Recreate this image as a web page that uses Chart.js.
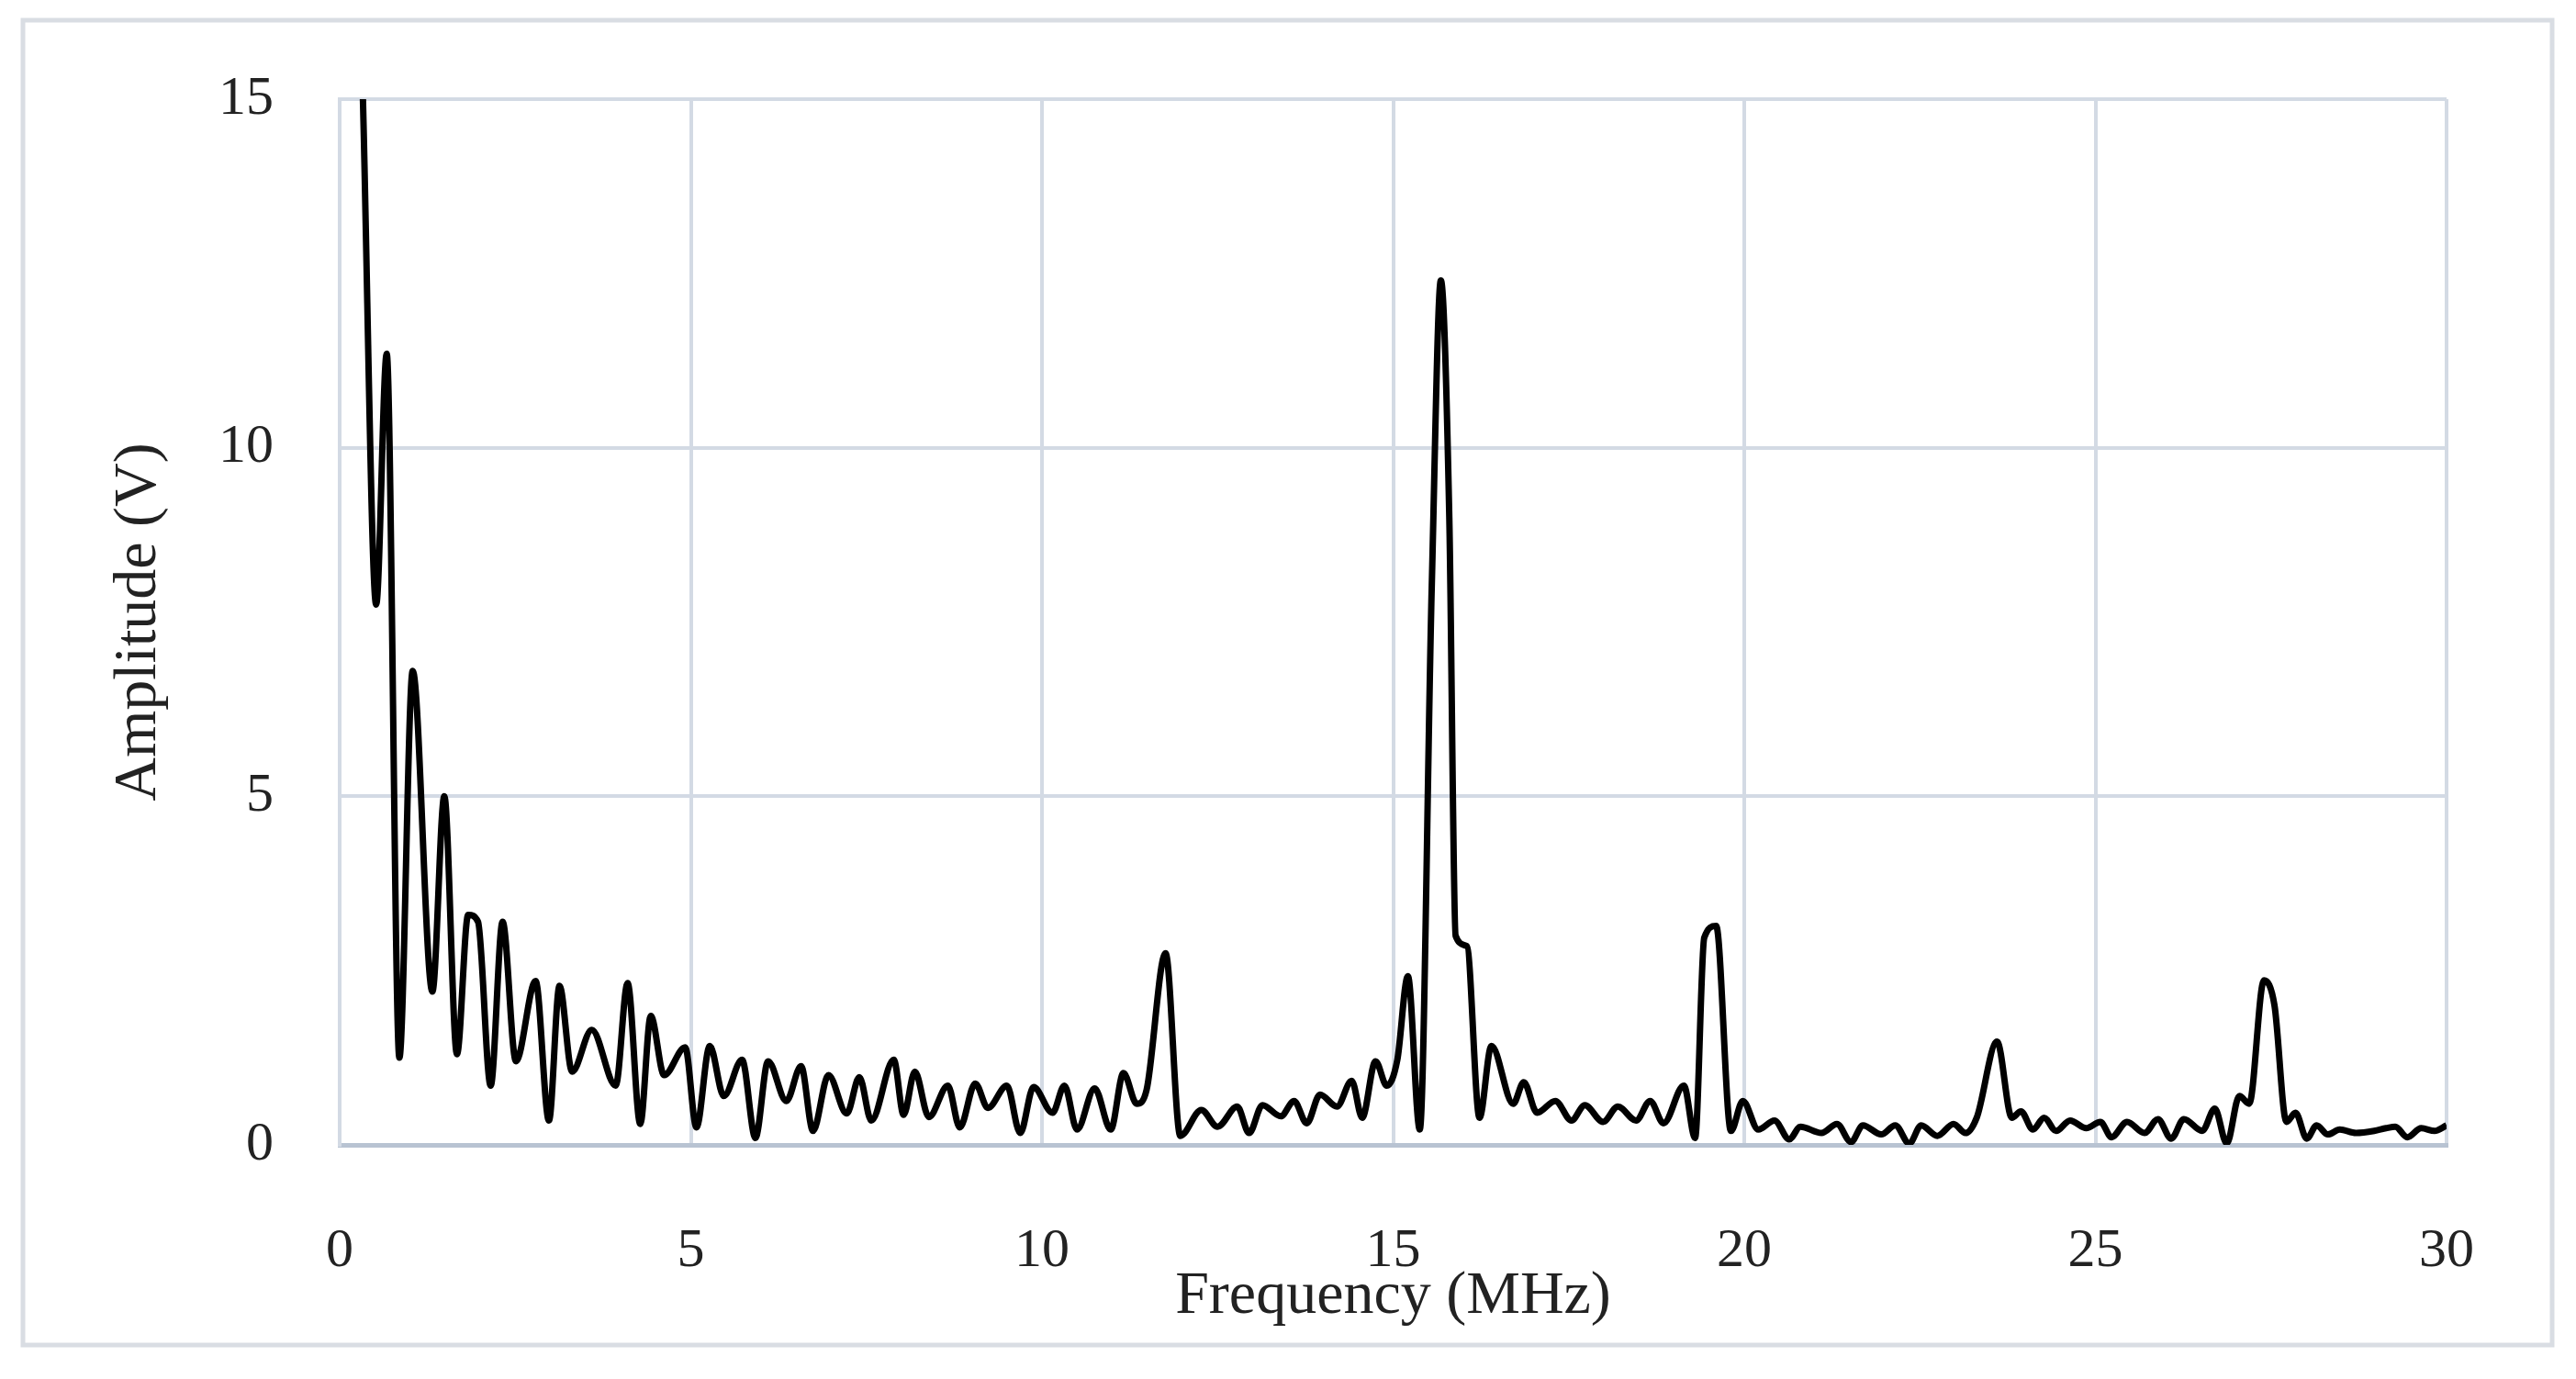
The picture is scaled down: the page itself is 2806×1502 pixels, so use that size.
<!DOCTYPE html>
<html>
<head>
<meta charset="utf-8">
<script src="https://cdn.jsdelivr.net/npm/chart.js@4/dist/chart.umd.min.js"></script>
<style>
  html, body { margin: 0; padding: 0; background: #fff; }
  #wrap { width: 2806px; height: 1502px; }
</style>
</head>
<body>
<div id="wrap"><canvas id="spectrum"></canvas></div>
<script>
const freq = [0.33, 0.52, 0.67, 0.85, 1.04, 1.32, 1.49, 1.67, 1.83, 1.97, 2.15, 2.32, 2.51, 2.79, 2.98, 3.13, 3.31, 3.59, 3.93, 4.10,
  4.28, 4.43, 4.62, 4.92, 5.08, 5.27, 5.47, 5.73, 5.92, 6.10, 6.36, 6.57, 6.74, 6.96, 7.22, 7.40, 7.57, 7.89, 8.03, 8.19,
  8.39, 8.66, 8.83, 9.05, 9.23, 9.50, 9.69, 9.88, 10.15, 10.32, 10.50, 10.75, 10.98, 11.16, 11.35, 11.49, 11.76, 11.97, 12.27, 12.50,
  12.78, 12.95, 13.14, 13.40, 13.59, 13.77, 13.96, 14.20, 14.41, 14.56, 14.75, 14.91, 15.06, 15.21, 15.38, 15.55, 15.68, 15.80, 15.89, 16.05,
  16.23, 16.40, 16.71, 16.86, 17.05, 17.31, 17.54, 17.73, 17.99, 18.20, 18.46, 18.66, 18.85, 19.14, 19.30, 19.43, 19.60, 19.81, 19.98, 20.20,
  20.43, 20.64, 20.80, 21.10, 21.32, 21.52, 21.69, 21.95, 22.15, 22.35, 22.52, 22.75, 22.98, 23.15, 23.31, 23.60, 23.81, 23.94, 24.11, 24.27,
  24.44, 24.64, 24.87, 25.07, 25.23, 25.45, 25.70, 25.89, 26.08, 26.26, 26.52, 26.70, 26.87, 27.05, 27.19, 27.40, 27.55, 27.72, 27.85, 28.01,
  28.15, 28.31, 28.48, 28.71, 28.97, 29.14, 29.27, 29.44, 29.64, 29.83, 30.00];
const amplitude = [15.05, 7.75, 11.35, 1.25, 6.8, 2.2, 5.0, 1.3, 3.3, 3.2, 0.85, 3.2, 1.2, 2.35, 0.35, 2.28, 1.05, 1.65, 0.85, 2.32,
  0.3, 1.85, 1.0, 1.4, 0.25, 1.42, 0.7, 1.22, 0.1, 1.2, 0.63, 1.13, 0.2, 1.0, 0.45, 0.97, 0.35, 1.22, 0.43, 1.05,
  0.4, 0.85, 0.25, 0.88, 0.53, 0.85, 0.17, 0.83, 0.46, 0.85, 0.22, 0.81, 0.22, 1.03, 0.59, 0.79, 2.75, 0.13, 0.5, 0.26,
  0.55, 0.17, 0.57, 0.41, 0.63, 0.31, 0.72, 0.55, 0.92, 0.39, 1.2, 0.85, 1.22, 2.42, 0.22, 8.0, 12.4, 9.0, 3.0, 2.85,
  0.39, 1.42, 0.59, 0.9, 0.46, 0.63, 0.35, 0.57, 0.33, 0.55, 0.35, 0.63, 0.31, 0.85, 0.1, 2.97, 3.14, 0.2, 0.63, 0.22,
  0.35, 0.08, 0.26, 0.17, 0.3, 0.04, 0.28, 0.15, 0.28, 0.02, 0.28, 0.13, 0.3, 0.17, 0.39, 1.48, 0.39, 0.48, 0.22, 0.39,
  0.2, 0.35, 0.24, 0.33, 0.11, 0.33, 0.17, 0.37, 0.09, 0.37, 0.2, 0.52, 0.02, 0.7, 0.59, 2.36, 2.0, 0.33, 0.46, 0.09,
  0.28, 0.15, 0.22, 0.17, 0.2, 0.24, 0.26, 0.11, 0.24, 0.2, 0.28];
const xTicks = [0, 5, 10, 15, 20, 25, 30];
const yTicks = [0, 5, 10, 15];

const serif = "'Liberation Serif', 'DejaVu Serif', serif";
const gridColor = "#d3dae4";

const frame = {
  id: 'frame',
  beforeDraw(chart) {
    const c = chart.ctx;
    c.save();
    c.fillStyle = "#fff";
    c.fillRect(0, 0, chart.width, chart.height);
    c.strokeStyle = "#d9dde3";
    c.lineWidth = 5;
    c.strokeRect(25, 22, 2755, 1443);
    c.restore();
  }
};

new Chart(document.getElementById('spectrum'), {
  type: 'line',
  data: {
    datasets: [{
      data: freq.map((f, i) => ({ x: f, y: amplitude[i] })),
      borderColor: "#000",
      borderWidth: 7,
      pointRadius: 0,
      cubicInterpolationMode: 'monotone',
      fill: false
    }]
  },
  options: {
    responsive: true,
    maintainAspectRatio: false,
    animation: false,
    layout: { padding: { left: 112, right: 141, top: 102, bottom: 50 } },
    plugins: { legend: { display: false }, tooltip: { enabled: false } },
    scales: {
      x: {
        type: 'linear',
        min: 0, max: 30,
        afterBuildTicks: s => { s.ticks = xTicks.map(v => ({ value: v })); },
        afterFit: s => { s.height = 1502 - 1247 - 50; },
        grid: { color: gridColor, lineWidth: 4, drawTicks: false },
        border: { color: "#b8c3d2", width: 5 },
        ticks: { color: "#222", font: { family: serif, size: 60 }, padding: 80 },
        title: { display: true, text: 'Frequency (MHz)', color: "#222", font: { family: serif, size: 66 }, padding: { top: -22, bottom: 0 } }
      },
      y: {
        min: 0, max: 15,
        afterBuildTicks: s => { s.ticks = yTicks.map(v => ({ value: v })); },
        afterFit: s => { s.width = 370 - 112; },
        grid: { color: gridColor, lineWidth: 4, drawTicks: false },
        border: { color: gridColor, width: 4 },
        ticks: { color: "#222", font: { family: serif, size: 60 }, padding: 72 },
        title: { display: true, text: 'Amplitude (V)', color: "#222", font: { family: serif, size: 66 }, padding: { top: 0, bottom: 0 } }
      }
    }
  },
  plugins: [frame]
});
</script>
</body>
</html>
